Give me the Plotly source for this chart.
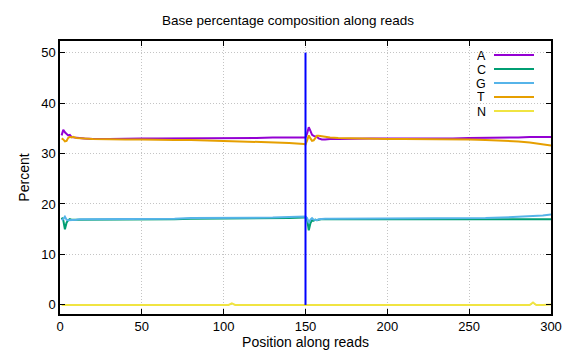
import plotly.graph_objects as go

# Positions along reads (read 1: 1-150, read 2: 151-300)
pos = [1, 2, 3, 4, 5, 6, 7, 8, 10, 12, 15, 20, 30, 40, 50, 60, 70, 80, 90, 100,
       103, 105, 107, 110, 120, 130, 140, 149, 150,
       151, 152, 153, 154, 155, 156, 157, 158, 160, 162, 165, 170, 180, 190, 200,
       210, 220, 230, 240, 250, 260, 270, 280, 287, 289, 291, 295, 300]

A = [33.6, 34.7, 34.2, 33.8, 33.6, 33.7, 33.3, 33.2, 33.2, 33.1, 33.0, 32.9, 32.9, 33.0, 33.0, 33.0, 33.0, 33.1, 33.1, 33.1,
     33.1, 33.1, 33.1, 33.1, 33.1, 33.2, 33.2, 33.2, 33.2,
     34.0, 35.2, 34.5, 33.7, 33.5, 33.4, 33.3, 33.0, 32.8, 32.8, 32.9, 32.9, 33.0, 33.0, 33.0,
     33.0, 32.9, 33.0, 33.0, 33.1, 33.1, 33.2, 33.2, 33.3, 33.3, 33.3, 33.3, 33.3]
C = [17.3, 16.8, 15.0, 16.3, 16.8, 17.0, 16.9, 16.9, 17.0, 16.9, 16.9, 16.9, 17.0, 17.0, 17.0, 17.0, 17.0, 17.1, 17.1, 17.1,
     17.1, 17.1, 17.1, 17.1, 17.1, 17.1, 17.2, 17.3, 17.3,
     17.0, 14.8, 16.2, 16.8, 16.7, 16.9, 16.8, 16.9, 17.0, 17.0, 17.0, 17.0, 17.1, 17.1, 17.1,
     17.1, 17.1, 17.1, 17.1, 17.1, 17.1, 17.1, 17.1, 17.1, 17.1, 17.1, 17.1, 17.0]
G = [16.8, 17.0, 17.5, 16.9, 16.8, 16.8, 16.9, 16.9, 16.9, 17.0, 17.0, 17.0, 17.1, 17.1, 17.1, 17.1, 17.1, 17.2, 17.2, 17.2,
     17.2, 17.2, 17.2, 17.2, 17.3, 17.3, 17.4, 17.5, 17.5,
     17.2, 16.3, 16.9, 17.2, 16.9, 16.9, 16.8, 17.0, 17.1, 17.1, 17.1, 17.1, 17.1, 17.1, 17.1,
     17.1, 17.1, 17.1, 17.2, 17.1, 17.2, 17.3, 17.4, 17.5, 17.5, 17.6, 17.7, 17.9]
T = [33.0, 32.8, 32.4, 32.5, 33.1, 33.3, 33.2, 33.3, 33.1, 33.1, 33.0, 32.9, 32.8, 32.8, 32.8, 32.7, 32.7, 32.7, 32.6, 32.6,
     32.6, 32.5, 32.5, 32.5, 32.4, 32.3, 32.1, 31.9, 31.8,
     32.6, 33.6, 33.0, 32.5, 32.6, 33.2, 33.5, 33.5, 33.4, 33.3, 33.2, 33.1, 33.0, 33.0, 32.9,
     32.9, 32.9, 32.9, 32.8, 32.8, 32.7, 32.6, 32.4, 32.2, 32.1, 32.0, 31.9, 31.6]
N = [0.0, 0.0, 0.0, 0.0, 0.0, 0.0, 0.0, 0.0, 0.0, 0.0, 0.0, 0.0, 0.0, 0.0, 0.0, 0.0, 0.0, 0.0, 0.0, 0.0,
     0.0, 0.3, 0.0, 0.0, 0.0, 0.0, 0.0, 0.0, 0.0,
     0.0, 0.0, 0.0, 0.0, 0.0, 0.0, 0.0, 0.0, 0.0, 0.0, 0.0, 0.0, 0.0, 0.0, 0.0,
     0.0, 0.0, 0.0, 0.0, 0.0, 0.0, 0.0, 0.0, 0.0, 0.5, 0.0, 0.0, 0.1]

# Read boundary marker
boundary_x = [150, 150]
boundary_y = [0, 50]

series = [("A", A, "#9400d3"), ("C", C, "#009e73"), ("G", G, "#56b4e9"),
          ("T", T, "#e69f00"), ("N", N, "#f0e442")]

fig = go.Figure()
for name, vals, col in series:
    fig.add_trace(go.Scatter(x=pos, y=vals, mode="lines", name=name,
                             line=dict(color=col, width=2), showlegend=False))
fig.add_trace(go.Scatter(x=boundary_x, y=boundary_y, mode="lines",
                         line=dict(color="#0000ff", width=2), showlegend=False))

# Gnuplot-style legend: label to the left, sample to the right
for i, (name, vals, col) in enumerate(series):
    ypx = 55 + 14 * i
    yp = 1 - (ypx - 41) / 273
    fig.add_annotation(xref="paper", yref="paper", x=(481 - 60) / 491, y=yp,
                       text=name, showarrow=False, xanchor="center", yanchor="middle",
                       height=13, borderpad=0,
                       font=dict(size=12.5, color="black"))
    fig.add_shape(type="line", xref="paper", yref="paper",
                  x0=(494 - 60) / 491, x1=(534 - 60) / 491, y0=yp, y1=yp,
                  line=dict(color=col, width=2))

axis_common = dict(showline=True, linecolor="black", linewidth=1.5, mirror="ticks",
                   ticks="inside", ticklen=5, tickcolor="black",
                   showgrid=True, gridcolor="#c4c4c4", griddash="1px,2px", gridwidth=1,
                   zeroline=False, tickfont=dict(size=13, color="black"))

fig.update_layout(
    width=576, height=360,
    margin=dict(l=60, r=25, t=41, b=46),
    paper_bgcolor="white", plot_bgcolor="white",
    font=dict(family="Liberation Sans, Arial, sans-serif", color="black"),
    title=dict(text="Base percentage composition along reads", x=0.5, xanchor="center",
               y=1 - 20 / 360, yanchor="middle", font=dict(size=13.5)),
    xaxis=dict(range=[0, 300], tickvals=[0, 50, 100, 150, 200, 250, 300],
               title=dict(text="Position along reads", font=dict(size=14), standoff=3),
               **axis_common),
    yaxis=dict(range=[-1.8, 52.3], tickvals=[0, 10, 20, 30, 40, 50],
               title=dict(text="Percent", font=dict(size=14), standoff=8),
               **axis_common),
)

fig.write_html("out.html", config={"displayModeBar": False},
               post_script="document.body.style.margin='0';document.body.style.padding='0';")
